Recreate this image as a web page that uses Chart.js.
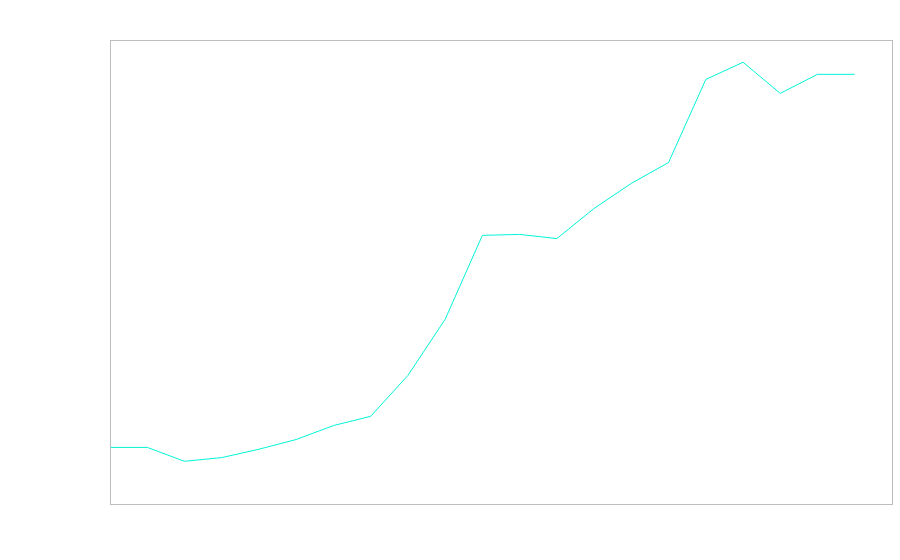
<!DOCTYPE html>
<html lang="en">
<head>
    <meta charset="UTF-8">
    <title>Line Chart</title>
    <script src="https://cdn.jsdelivr.net/npm/chart.js"></script>
    <style>
        body { margin: 0; background: #fff; }
        #lineChart { display: block; }
    </style>
</head>
<body>
    <canvas id="lineChart" width="900" height="560"></canvas>
    <script>
        // x positions 0..20, axis runs to 21
        const xs = [0, 1, 2, 3, 4, 5, 6, 7, 8, 9, 10, 11, 12, 13, 14, 15, 16, 17, 18, 19, 20];
        const values = [12.2, 12.2, 9.2, 10.0, 11.8, 13.9, 16.9, 18.9, 27.7, 39.8, 57.9, 58.1, 57.2, 63.7, 69.1, 73.6, 91.5, 95.2, 88.5, 92.6, 92.6];

        // frame round the plot area
        const frame = {
            id: 'frame',
            afterDraw(chart) {
                const a = chart.chartArea;
                const c = chart.ctx;
                c.save();
                c.strokeStyle = '#bdbdbd';
                c.lineWidth = 1;
                c.strokeRect(Math.round(a.left) + 0.5, Math.round(a.top) + 0.5,
                             Math.round(a.right - a.left), Math.round(a.bottom - a.top));
                c.restore();
            }
        };

        const ctx = document.getElementById('lineChart').getContext('2d');
        new Chart(ctx, {
            type: 'line',
            data: {
                datasets: [{
                    data: xs.map((x, i) => ({ x: x, y: values[i] })),
                    borderColor: 'rgb(0, 245, 215)',
                    borderWidth: 1,
                    pointRadius: 0,
                    fill: false,
                    tension: 0
                }]
            },
            options: {
                responsive: false,
                animation: false,
                layout: { padding: { left: 110, top: 40, right: 8, bottom: 56 } },
                scales: {
                    x: { type: 'linear', min: 0, max: 21, display: false },
                    y: { min: 0, max: 100, display: false }
                },
                plugins: {
                    legend: { display: false },
                    tooltip: { enabled: false }
                }
            },
            plugins: [frame]
        });
    </script>
</body>
</html>
